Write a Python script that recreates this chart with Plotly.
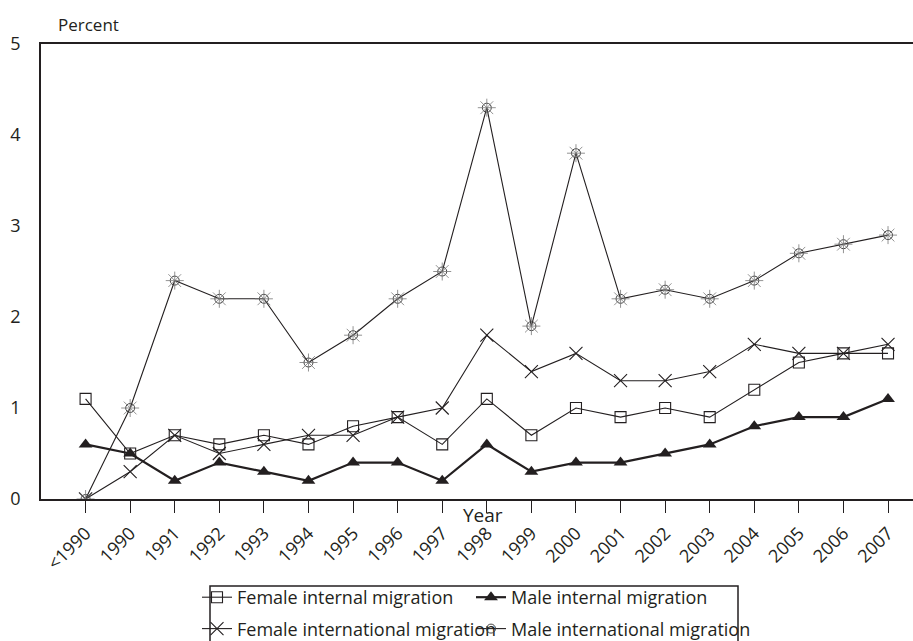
import plotly.graph_objects as go

categories = ["<1990", "1990", "1991", "1992", "1993", "1994", "1995", "1996", "1997",
              "1998", "1999", "2000", "2001", "2002", "2003", "2004", "2005", "2006", "2007"]

female_internal = [1.1, 0.5, 0.7, 0.6, 0.7, 0.6, 0.8, 0.9, 0.6, 1.1, 0.7, 1.0, 0.9, 1.0, 0.9, 1.2, 1.5, 1.6, 1.6]
male_internal = [0.6, 0.5, 0.2, 0.4, 0.3, 0.2, 0.4, 0.4, 0.2, 0.6, 0.3, 0.4, 0.4, 0.5, 0.6, 0.8, 0.9, 0.9, 1.1]
female_international = [0.0, 0.3, 0.7, 0.5, 0.6, 0.7, 0.7, 0.9, 1.0, 1.8, 1.4, 1.6, 1.3, 1.3, 1.4, 1.7, 1.6, 1.6, 1.7]
male_international = [0.0, 1.0, 2.4, 2.2, 2.2, 1.5, 1.8, 2.2, 2.5, 4.3, 1.9, 3.8, 2.2, 2.3, 2.2, 2.4, 2.7, 2.8, 2.9]

y_ticks = [0, 1, 2, 3, 4, 5]

FONT = "Open Sans"
INK = "#231f20"
W, H = 913, 641
L, R, T, B = 41, 0, 44, 142
PW, PH = W - L - R, H - T - B


def px_x(p):
    return (p - L) / PW


def px_y(p):
    return (H - B - p) / PH


fig = go.Figure()

fig.add_trace(go.Scatter(
    x=categories, y=female_internal, mode="lines+markers",
    name="Female internal migration", legend="legend", legendgroup="a",
    line=dict(color=INK, width=1.1),
    marker=dict(symbol="square-open", size=11, color=INK, line=dict(width=1.1)),
))
fig.add_trace(go.Scatter(
    x=categories, y=male_internal, mode="lines+markers",
    name="Male internal migration", legend="legend2", legendgroup="b",
    line=dict(color=INK, width=2.2),
    marker=dict(symbol="triangle-up", size=12, color=INK),
))
fig.add_trace(go.Scatter(
    x=categories, y=female_international, mode="lines+markers",
    name="Female international migration", legend="legend", legendgroup="c",
    line=dict(color=INK, width=1.1),
    marker=dict(symbol="x-thin-open", size=13, color=INK, line=dict(width=1.1, color=INK)),
))
fig.add_trace(go.Scatter(
    x=categories, y=male_international, mode="lines+markers",
    name="Male international migration", legend="legend2", legendgroup="d",
    line=dict(color=INK, width=1.1),
    marker=dict(symbol="circle-open", size=9, color="#444", line=dict(width=1)),
))
fig.add_trace(go.Scatter(
    x=categories, y=male_international, mode="markers",
    showlegend=False, hoverinfo="skip",
    marker=dict(symbol="asterisk-open", size=15, color="#777", line=dict(width=0.8, color="#777")),
))

legend_common = dict(
    orientation="v",
    xref="container", yref="container",
    xanchor="left", yanchor="top",
    borderwidth=0, bgcolor="rgba(0,0,0,0)",
    font=dict(family=FONT, size=18, color=INK),
    itemwidth=30, tracegroupgap=5,
    traceorder="grouped",
)

fig.update_layout(
    width=W, height=H,
    margin=dict(l=L, r=R, t=T, b=B, autoexpand=False),
    plot_bgcolor="white", paper_bgcolor="white",
    font=dict(family=FONT, color=INK, size=17),
    showlegend=True,
    legend=dict(legend_common, x=197 / W, y=1 - 579 / H),
    legend2=dict(legend_common, x=471 / W, y=1 - 579 / H),
    xaxis=dict(
        type="category",
        categoryorder="array", categoryarray=categories,
        range=[-1, 18.56],
        automargin=False,
        showline=True, linecolor=INK, linewidth=1.5,
        mirror=True,
        ticks="outside", ticklen=12, tickwidth=1, tickcolor=INK,
        tickangle=-45, ticklabelstandoff=3,
        tickfont=dict(family=FONT, size=18, color=INK),
        showgrid=False, zeroline=False,
    ),
    yaxis=dict(
        range=[0, 5],
        tickvals=y_ticks,
        automargin=False,
        showline=True, linecolor=INK, linewidth=1.5,
        ticks="", ticklabelstandoff=15,
        tickfont=dict(family=FONT, size=18, color=INK),
        showgrid=False, zeroline=False,
    ),
    shapes=[
        dict(type="rect", xref="paper", yref="paper",
             x0=px_x(210), x1=px_x(738), y0=px_y(586), y1=px_y(700),
             line=dict(color=INK, width=1.5), fillcolor="rgba(0,0,0,0)"),
    ],
    annotations=[
        dict(text="Percent", x=px_x(88), y=px_y(25), xref="paper", yref="paper",
             showarrow=False, xanchor="center", yanchor="middle",
             font=dict(family=FONT, size=17, color=INK)),
        dict(text="Year", x=px_x(483), y=px_y(515), xref="paper", yref="paper",
             showarrow=False, xanchor="center", yanchor="middle",
             font=dict(family=FONT, size=19, color=INK)),
    ],
)

fig.write_html("out.html", config={"displayModeBar": False},
               post_script="document.body.style.margin='0';")
